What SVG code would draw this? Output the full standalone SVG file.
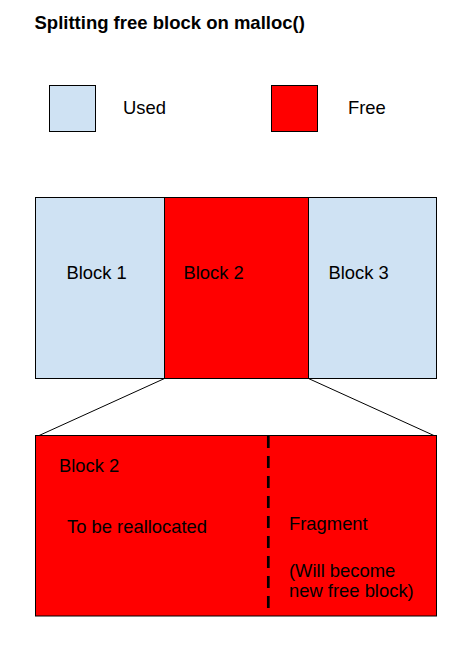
<svg xmlns="http://www.w3.org/2000/svg" width="474" height="647" viewBox="0 0 474 647">
<style>
text{font-family:"Liberation Sans",Arial,sans-serif;font-size:18.4px;fill:#000}
.title{font-weight:bold;font-size:18.5px}
.used{fill:#cfe2f3;stroke:#000;stroke-width:1}
.free{fill:#ff0000;stroke:#000;stroke-width:1}
.conn{stroke:#000;stroke-width:1;fill:none}
</style>
<rect width="474" height="647" fill="#fff"/>
<text class="title" x="34.5" y="28.5">Splitting free block on malloc()</text>
<g id="legend-used">
<rect class="used" x="49.5" y="85.5" width="46" height="46"/>
<text x="123" y="113.5">Used</text>
</g>
<g id="legend-free">
<rect class="free" x="271.5" y="85.5" width="46" height="46"/>
<text x="348" y="113.5">Free</text>
</g>
<g id="block1">
<rect class="used" x="35.5" y="197.5" width="129" height="181"/>
<text x="66.5" y="279">Block 1</text>
</g>
<g id="block2">
<rect class="free" x="164.5" y="197.5" width="144" height="181"/>
<text x="183.5" y="279">Block 2</text>
</g>
<g id="block3">
<rect class="used" x="308.5" y="197.5" width="128" height="181"/>
<text x="328.5" y="279">Block 3</text>
</g>
<g id="connectors">
<line class="conn" x1="164.5" y1="378.5" x2="38" y2="436"/>
<line class="conn" x1="308.5" y1="378.5" x2="435" y2="436"/>
</g>
<g id="block2-split">
<rect class="free" x="35.5" y="435.5" width="401" height="180.5"/>
<line x1="268.3" y1="436" x2="268.3" y2="616" stroke="#000" stroke-width="2.7" stroke-dasharray="12 8"/>
<text x="59" y="472">Block 2</text>
<text x="67" y="532.5">To be reallocated</text>
<text x="289" y="529.5">Fragment</text>
<text x="289" y="576.5">(Will become</text>
<text x="289" y="596.5">new free block)</text>
</g>
</svg>
